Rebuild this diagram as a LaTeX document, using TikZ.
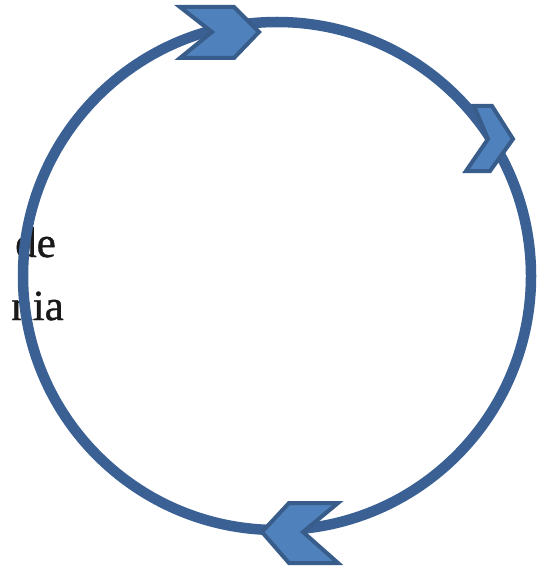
\documentclass[tikz,border=0pt]{standalone}
\usepackage{fontspec}
\setmainfont{Liberation Serif}
\newfontfamily\sidefont[FakeBold=1]{Liberation Serif}
\definecolor{ringblue}{HTML}{3A6094}
\definecolor{chevfill}{HTML}{4F81BD}
\definecolor{chevline}{HTML}{385D8A}
\tikzset{
  ring/.style={draw=ringblue, line width=10.5pt},
  chevron/.style={fill=chevfill, draw=chevline, line width=4pt, line join=miter},
  sidetext/.style={font=\sidefont\fontsize{43}{50}\selectfont, text=black!90, inner sep=0pt, anchor=base east}
}
\begin{document}
\begin{tikzpicture}[x=1pt,y=-1pt]
\useasboundingbox (0,0) rectangle (539,567);
\fill[white] (0,0) rectangle (539,567);
% partially hidden text on the left
\node[sidetext] (t1) at (56,257) {de};
\node[sidetext] (t2) at (64,320) {nia};
% ring
\draw[ring] (277,276) circle[radius=254];
% chevrons
\draw[chevron] (180,7) -- (234,7) -- (259,32) -- (234,58) -- (180,58) -- (212,32) -- cycle;
\draw[chevron] (474,106) -- (492,106) -- (513,139) -- (490,171) -- (466,171) -- (488,139) -- cycle;
\draw[chevron] (262,532) -- (289,503) -- (338,503) -- (303,532) -- (338,563) -- (289,563) -- cycle;
\end{tikzpicture}
\end{document}
